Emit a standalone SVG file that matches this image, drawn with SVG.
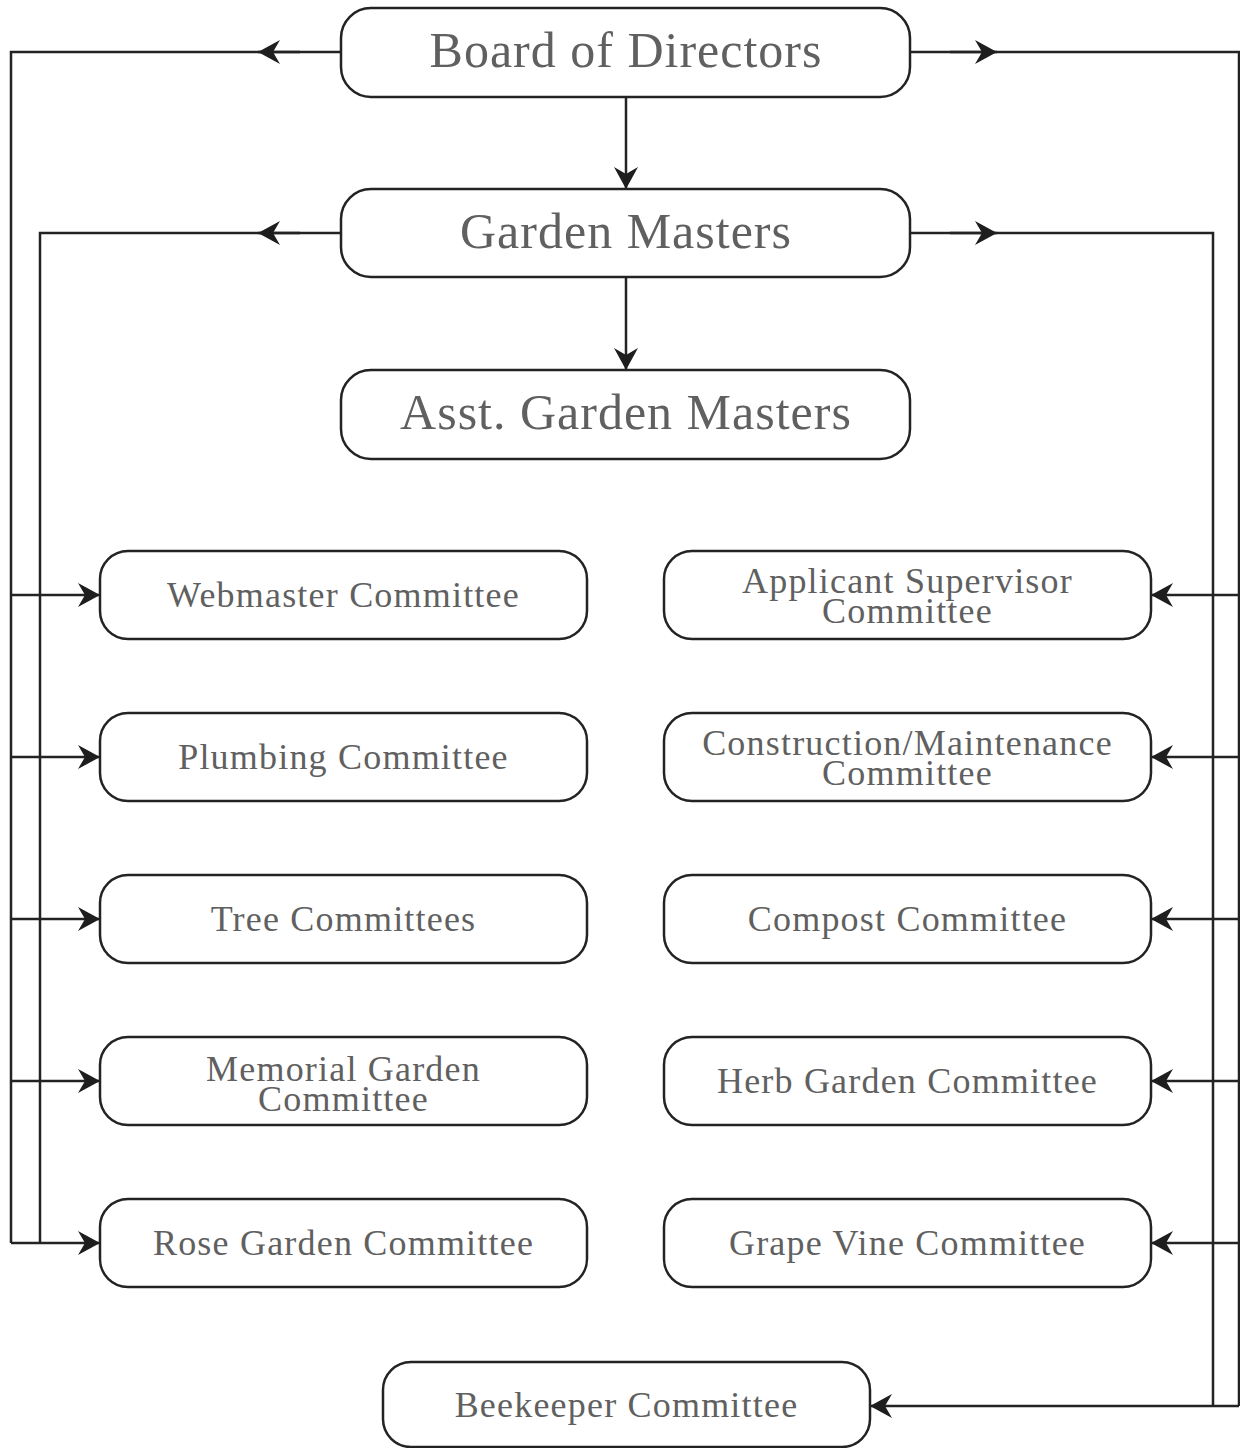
<svg xmlns="http://www.w3.org/2000/svg" width="1240" height="1448" viewBox="0 0 1240 1448">
<style>
.box{fill:#fff;stroke:#232323;stroke-width:2.5}
.t{font-family:"Liberation Serif","Times New Roman",serif;fill:#606060;text-anchor:middle}
.big{font-size:50px;letter-spacing:1px}
.sm{font-size:36px;letter-spacing:1.2px}
.ln{fill:none;stroke:#232323;stroke-width:2.5}
</style>
<defs>
<marker id="ah" viewBox="0 0 22 24" refX="22" refY="12" markerWidth="22" markerHeight="24" markerUnits="userSpaceOnUse" orient="auto">
<path d="M0,0 L22,12 L0,24 L7,12 z" fill="#1e1e1e"/>
</marker>
</defs>
<rect width="1240" height="1448" fill="#fff"/>
<g id="connectors">
<path class="ln" d="M341,52 H11 V1243"/>
<path class="ln" d="M341,233 H40 V1243"/>
<path class="ln" d="M910,52 H1239 V1406"/>
<path class="ln" d="M910,233 H1213 V1406"/>
<path class="ln" d="M300,52 H258" marker-end="url(#ah)"/>
<path class="ln" d="M300,233 H258" marker-end="url(#ah)"/>
<path class="ln" d="M950,52 H997" marker-end="url(#ah)"/>
<path class="ln" d="M950,233 H997" marker-end="url(#ah)"/>
<path class="ln" d="M626,97 V189" marker-end="url(#ah)"/>
<path class="ln" d="M626,277 V370" marker-end="url(#ah)"/>
<path class="ln" d="M11,595 H100" marker-end="url(#ah)"/>
<path class="ln" d="M11,757 H100" marker-end="url(#ah)"/>
<path class="ln" d="M11,919 H100" marker-end="url(#ah)"/>
<path class="ln" d="M11,1081 H100" marker-end="url(#ah)"/>
<path class="ln" d="M11,1243 H100" marker-end="url(#ah)"/>
<path class="ln" d="M1239,595 H1151" marker-end="url(#ah)"/>
<path class="ln" d="M1239,757 H1151" marker-end="url(#ah)"/>
<path class="ln" d="M1239,919 H1151" marker-end="url(#ah)"/>
<path class="ln" d="M1239,1081 H1151" marker-end="url(#ah)"/>
<path class="ln" d="M1239,1243 H1151" marker-end="url(#ah)"/>
<path class="ln" d="M1239,1406 H870" marker-end="url(#ah)"/>
</g>
<g id="board"><rect class="box" x="341" y="8" width="569" height="89" rx="30"/><text class="t big" x="626" y="67">Board of  Directors</text></g>
<g id="garden-masters"><rect class="box" x="341" y="189" width="569" height="88" rx="30"/><text class="t big" x="626" y="248">Garden Masters</text></g>
<g id="asst-garden-masters"><rect class="box" x="341" y="370" width="569" height="89" rx="30"/><text class="t big" x="626" y="429">Asst. Garden Masters</text></g>
<g id="webmaster"><rect class="box" x="100" y="551" width="487" height="88" rx="28"/><text class="t sm" x="343.5" y="607">Webmaster Committee</text></g>
<g id="plumbing"><rect class="box" x="100" y="713" width="487" height="88" rx="28"/><text class="t sm" x="343.5" y="769">Plumbing Committee</text></g>
<g id="tree"><rect class="box" x="100" y="875" width="487" height="88" rx="28"/><text class="t sm" x="343.5" y="931">Tree Committees</text></g>
<g id="memorial"><rect class="box" x="100" y="1037" width="487" height="88" rx="28"/><text class="t sm" x="343.5" y="1081">Memorial Garden</text><text class="t sm" x="343.5" y="1111">Committee</text></g>
<g id="rose"><rect class="box" x="100" y="1199" width="487" height="88" rx="28"/><text class="t sm" x="343.5" y="1255">Rose Garden Committee</text></g>
<g id="applicant"><rect class="box" x="664" y="551" width="487" height="88" rx="28"/><text class="t sm" x="907.5" y="593">Applicant Supervisor</text><text class="t sm" x="907.5" y="623">Committee</text></g>
<g id="construction"><rect class="box" x="664" y="713" width="487" height="88" rx="28"/><text class="t sm" x="907.5" y="755">Construction/Maintenance</text><text class="t sm" x="907.5" y="785">Committee</text></g>
<g id="compost"><rect class="box" x="664" y="875" width="487" height="88" rx="28"/><text class="t sm" x="907.5" y="931">Compost Committee</text></g>
<g id="herb"><rect class="box" x="664" y="1037" width="487" height="88" rx="28"/><text class="t sm" x="907.5" y="1093">Herb Garden Committee</text></g>
<g id="grape"><rect class="box" x="664" y="1199" width="487" height="88" rx="28"/><text class="t sm" x="907.5" y="1255">Grape Vine Committee</text></g>
<g id="beekeeper"><rect class="box" x="383" y="1362" width="487" height="85" rx="28"/><text class="t sm" x="626.5" y="1417">Beekeeper Committee</text></g>
</svg>
